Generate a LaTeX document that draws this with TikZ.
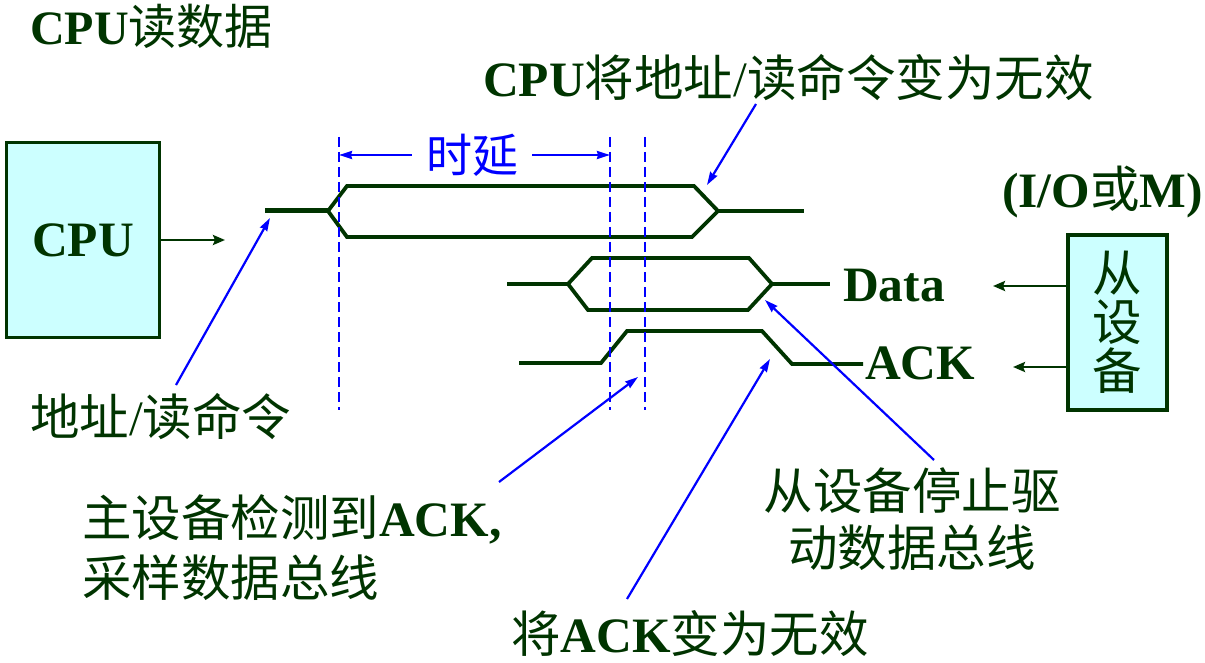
\documentclass[tikz,border=0pt]{standalone}
\usepackage{fontspec}
\setmainfont{Liberation Serif}
\newfontfamily\cjk{Noto Sans CJK SC}
\usetikzlibrary{arrows.meta}
\definecolor{dg}{RGB}{0,52,0}
\definecolor{lc}{RGB}{204,255,255}
\newcommand\zh[1]{{\cjk #1}}
\begin{document}
\begin{tikzpicture}[x=1pt,y=-1pt,
  lbl/.style={text=dg, inner sep=0pt, font=\fontsize{49.5}{56}\selectfont},
  devbox/.style={draw=dg, line width=3.5pt, fill=lc, text=dg, inner sep=0pt},
  wave/.style={draw=dg, line width=3.8pt, line join=miter},
  garrow/.style={draw=dg, line width=2.6pt, -{Stealth[length=12pt,width=10pt,inset=2pt]}},
  barrow/.style={draw=blue, line width=2.2pt, -{Stealth[length=13pt,width=8pt,inset=1pt]}},
  vdash/.style={draw=blue, line width=2pt, dash pattern=on 10pt off 5pt}]
\useasboundingbox (0,0) rectangle (1205,663);

% titles
\node[lbl, anchor=west, font=\fontsize{48}{56}\selectfont] (title) at (30,26) {\textbf{CPU}\zh{读数据}};
\node[lbl, anchor=west] (inval) at (483,78) {\textbf{CPU}\zh{将地址}/\zh{读命令变为无效}};

% boxes
\node[devbox, minimum width=153, minimum height=195, font=\fontsize{49.5}{56}\selectfont\bfseries] (cpu) at (83,240) {CPU};
\node[devbox, minimum width=99, minimum height=175, align=center, font=\fontsize{49.5}{49}\selectfont] (slv) at (1117.5,322.5) {\zh{从}\\\zh{设}\\\zh{备}};
\node[lbl, anchor=west] (iom) at (1002,192) {\textbf{(I/O}\zh{或}\textbf{M)}};

% signal labels
\node[lbl, anchor=west] (data) at (843,286) {\textbf{Data}};
\node[lbl, anchor=west] (ack) at (865,363) {\textbf{ACK}};

% annotations
\node[lbl, anchor=west] (addr) at (30,417) {\zh{地址}/\zh{读命令}};
\node[lbl, anchor=west, align=left, font=\fontsize{49.5}{60}\selectfont] (master) at (82,548) {\zh{主设备检测到}\textbf{ACK,}\\\zh{采样数据总线}};
\node[lbl, align=center, font=\fontsize{49.5}{57}\selectfont] (stop) at (912,519) {\zh{从设备停止驱}\\\zh{动数据总线}};
\node[lbl, anchor=west] (ackinv) at (511,634) {\zh{将}\textbf{ACK}\zh{变为无效}};

% waveforms
\draw[wave, line width=5pt] (265,211) -- (328,211);
\draw[wave] (328,211) -- (347,186) -- (694,186) -- (718,211) -- (692,237) -- (347,237) -- cycle;
\draw[wave] (718,211) -- (804,211);
\draw[wave] (507,284) -- (568,284);
\draw[wave] (568,284) -- (592,258) -- (749,258) -- (772,284) -- (748,310) -- (588,310) -- cycle;
\draw[wave] (772,284) -- (830,284);
\draw[wave] (519,363) -- (601,363) -- (627,331) -- (762,331) -- (792,364) -- (863,364);

% dashed time markers
\coordinate (d1t) at (339,137); \coordinate (d1b) at (339,410);
\coordinate (d2t) at (610,137); \coordinate (d2b) at (610,410);
\coordinate (d3t) at (645,137); \coordinate (d3b) at (645,410);
\draw[vdash] (d1t) -- (d1b);
\draw[vdash] (d2t) -- (d2b);
\draw[vdash] (d3t) -- (d3b);

% delay
\node[text=blue, inner ysep=0pt, inner xsep=14pt, font=\fontsize{46}{50}\selectfont] (delay) at (472,155) {\zh{时延}};
\draw[barrow] (delay.west) -- (d1t |- delay.west);
\draw[barrow] (delay.east) -- (d2t |- delay.east);

% green arrows
\coordinate (cpuout) at (225,240);
\draw[garrow] (cpu.east |- cpuout) -- (cpuout);
\coordinate (dataout) at (993,286);
\coordinate (ackout) at (1013,367);
\draw[garrow] (slv.west |- dataout) -- (dataout);
\draw[garrow] (slv.west |- ackout) -- (ackout);

% blue annotation arrows
\coordinate (a1) at (176,385); \coordinate (t1) at (270,218);
\coordinate (b1) at (756,104); \coordinate (t2) at (707,185);
\coordinate (m1) at (499,482); \coordinate (t3) at (638,377);
\coordinate (k1) at (627,599); \coordinate (t4) at (770,359);
\coordinate (s1) at (934,460); \coordinate (t5) at (765,300);
\draw[barrow] (a1) -- (t1);
\draw[barrow] (b1) -- (t2);
\draw[barrow] (m1) -- (t3);
\draw[barrow] (k1) -- (t4);
\draw[barrow] (s1) -- (t5);
\end{tikzpicture}
\end{document}
